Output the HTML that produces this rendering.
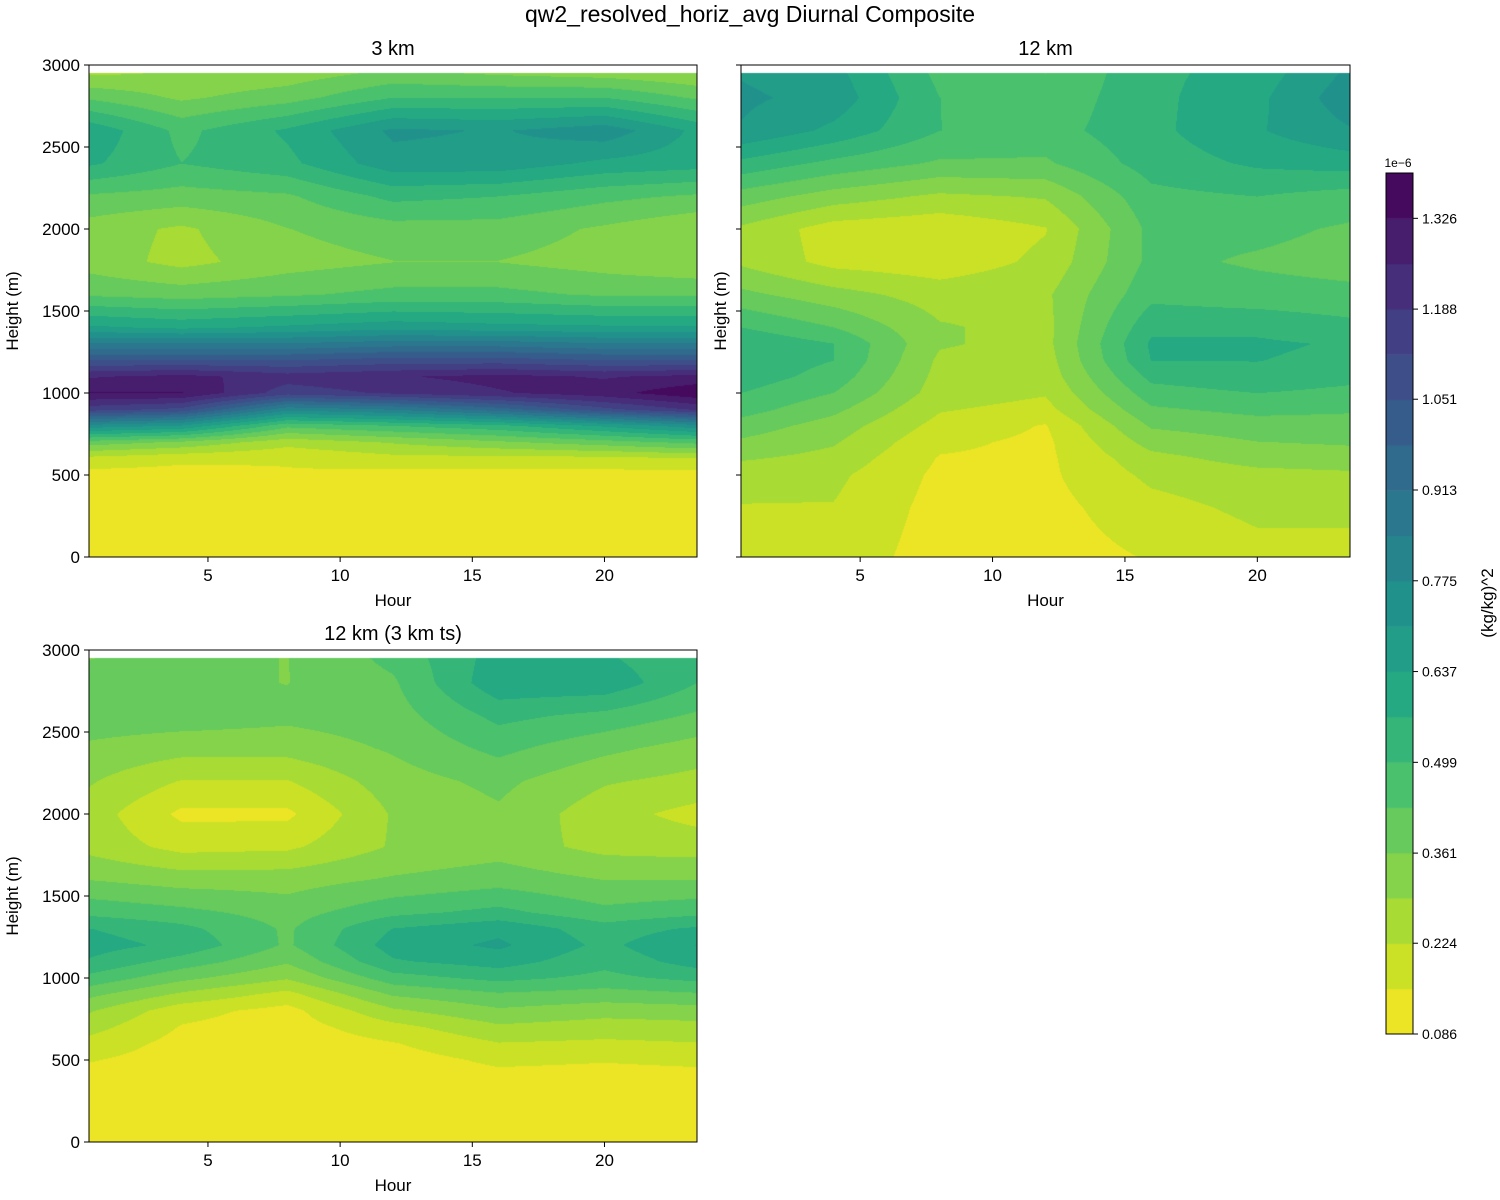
<!DOCTYPE html>
<html><head><meta charset="utf-8">
<style>
html,body{margin:0;padding:0;background:#fff;}
#root{position:relative;width:1500px;height:1200px;overflow:hidden;font-family:"Liberation Sans","DejaVu Sans",sans-serif;}
canvas{position:absolute;}
svg{position:absolute;left:0;top:0;}
</style></head>
<body>
<div id="root">
<canvas id="c1" width="608" height="492" style="left:89px;top:65px"></canvas>
<canvas id="c2" width="609" height="492" style="left:741px;top:65px"></canvas>
<canvas id="c3" width="608" height="492" style="left:89px;top:650px"></canvas>
<canvas id="cb" width="27" height="861" style="left:1386px;top:173px"></canvas>
<svg id="ov" width="1500" height="1200"></svg>
</div>
<script>
const hours=[0.5,4,8,12,16,20,23.5];
const heights=[0,300,500,600,700,800,900,1000,1100,1200,1300,1400,1600,1800,2000,2200,2400,2600,2800,2950];
const levelStart=0.086, levelStep=0.06889, nBands=19;
const cbTicks=["0.086","0.224","0.361","0.499","0.637","0.775","0.913","1.051","1.188","1.326"];
const xTicks=[5,10,15,20];
const yTicks=[0,500,1000,1500,2000,2500,3000];
const panel1=[
[0.1,0.1,0.1,0.1,0.1,0.1,0.1],
[0.1,0.1,0.1,0.1,0.1,0.1,0.1],
[0.13,0.13,0.15,0.13,0.13,0.13,0.13],
[0.2,0.17,0.16,0.2,0.2,0.2,0.22],
[0.4,0.35,0.25,0.3,0.35,0.4,0.45],
[0.75,0.7,0.45,0.5,0.55,0.65,0.75],
[1.15,1.1,0.8,0.85,0.95,1.1,1.2],
[1.33,1.33,1.15,1.2,1.25,1.3,1.38],
[1.25,1.28,1.22,1.25,1.28,1.25,1.28],
[1.05,1.05,1.05,1.08,1.08,1.05,1.05],
[0.85,0.85,0.85,0.88,0.88,0.85,0.85],
[0.65,0.62,0.65,0.68,0.66,0.65,0.65],
[0.42,0.4,0.42,0.45,0.45,0.42,0.42],
[0.33,0.27,0.33,0.36,0.36,0.33,0.3],
[0.33,0.28,0.36,0.4,0.4,0.35,0.3],
[0.42,0.4,0.42,0.52,0.5,0.45,0.42],
[0.58,0.5,0.55,0.68,0.68,0.62,0.6],
[0.62,0.48,0.58,0.72,0.7,0.75,0.62],
[0.42,0.35,0.4,0.5,0.5,0.5,0.42],
[0.28,0.3,0.32,0.38,0.35,0.33,0.3]];
const panel2=[
[0.2,0.2,0.12,0.12,0.16,0.2,0.2],
[0.22,0.22,0.13,0.13,0.2,0.24,0.24],
[0.25,0.24,0.14,0.14,0.24,0.27,0.28],
[0.3,0.27,0.15,0.14,0.27,0.32,0.33],
[0.35,0.3,0.17,0.14,0.32,0.36,0.37],
[0.4,0.33,0.2,0.15,0.37,0.4,0.4],
[0.46,0.38,0.23,0.2,0.42,0.45,0.44],
[0.5,0.43,0.26,0.23,0.47,0.5,0.48],
[0.54,0.47,0.27,0.25,0.52,0.55,0.52],
[0.55,0.5,0.28,0.26,0.57,0.57,0.55],
[0.56,0.5,0.3,0.27,0.58,0.58,0.56],
[0.5,0.43,0.3,0.27,0.55,0.55,0.52],
[0.38,0.32,0.26,0.28,0.48,0.46,0.45],
[0.28,0.2,0.18,0.24,0.45,0.42,0.4],
[0.28,0.19,0.17,0.22,0.45,0.45,0.42],
[0.4,0.33,0.28,0.3,0.48,0.5,0.47],
[0.55,0.48,0.42,0.42,0.53,0.58,0.6],
[0.7,0.62,0.5,0.47,0.55,0.63,0.7],
[0.72,0.68,0.5,0.45,0.55,0.62,0.75],
[0.7,0.66,0.48,0.43,0.55,0.6,0.72]];
const panel3=[
[0.1,0.1,0.1,0.1,0.1,0.1,0.1],
[0.1,0.1,0.1,0.1,0.1,0.1,0.1],
[0.16,0.12,0.1,0.12,0.17,0.16,0.17],
[0.2,0.13,0.11,0.15,0.22,0.21,0.22],
[0.25,0.15,0.12,0.2,0.28,0.26,0.27],
[0.3,0.18,0.13,0.28,0.35,0.32,0.33],
[0.38,0.28,0.2,0.37,0.42,0.4,0.42],
[0.48,0.38,0.3,0.47,0.52,0.48,0.52],
[0.56,0.47,0.37,0.56,0.6,0.52,0.6],
[0.6,0.55,0.42,0.6,0.65,0.55,0.64],
[0.57,0.52,0.42,0.57,0.62,0.53,0.58],
[0.48,0.45,0.4,0.48,0.52,0.45,0.48],
[0.36,0.33,0.33,0.37,0.4,0.36,0.36],
[0.27,0.2,0.21,0.3,0.33,0.27,0.26],
[0.26,0.14,0.14,0.3,0.35,0.25,0.2],
[0.3,0.22,0.22,0.33,0.38,0.3,0.27],
[0.35,0.32,0.32,0.37,0.45,0.38,0.33],
[0.4,0.4,0.38,0.4,0.52,0.48,0.42],
[0.38,0.38,0.36,0.42,0.62,0.62,0.5],
[0.36,0.38,0.36,0.45,0.6,0.58,0.5]];

const VIR=[[68,1,84],[72,36,117],[65,68,135],[53,95,141],[42,120,142],[33,145,140],[34,168,132],[68,191,112],[122,209,81],[189,223,38],[253,231,37]];
function viridis(t){t=Math.max(0,Math.min(1,t));const f=t*10,i=Math.min(9,Math.floor(f)),r=f-i;
 return VIR[i].map((v,k)=>Math.round(v+(VIR[i+1][k]-v)*r));}
function bandColor(b){return viridis(1-(b+0.5)/nBands);}
function bandOf(v){let b=Math.floor((v-levelStart)/levelStep);return Math.max(0,Math.min(nBands-1,b));}
function idx(arr,v){let i=0;while(i<arr.length-2&&v>arr[i+1])i++;const t=(v-arr[i])/(arr[i+1]-arr[i]);return [i,Math.max(0,Math.min(1,t))];}
function interp(grid,h,z){const [i,ti]=idx(hours,h),[j,tj]=idx(heights,z);
 const a=grid[j][i],b=grid[j][i+1],c=grid[j+1][i],d=grid[j+1][i+1];
 return (a*(1-ti)+b*ti)*(1-tj)+(c*(1-ti)+d*ti)*tj;}
const H0=0.5,H1=23.5,ZMAX=3000,ZTOP=2950;
function draw(id,grid){const cv=document.getElementById(id),ctx=cv.getContext('2d'),W=cv.width,Hh=cv.height;
 const img=ctx.createImageData(W,Hh);
 for(let py=0;py<Hh;py++){const z=ZMAX*(1-(py+0.5)/Hh);
  for(let px=0;px<W;px++){const o=(py*W+px)*4;
   if(z>ZTOP){img.data[o]=img.data[o+1]=img.data[o+2]=255;img.data[o+3]=255;continue;}
   const h=H0+(H1-H0)*(px+0.5)/W;const c=bandColor(bandOf(interp(grid,h,z)));
   img.data[o]=c[0];img.data[o+1]=c[1];img.data[o+2]=c[2];img.data[o+3]=255;}}
 ctx.putImageData(img,0,0);}
draw('c1',panel1);draw('c2',panel2);draw('c3',panel3);
(function(){const cv=document.getElementById('cb'),ctx=cv.getContext('2d'),bh=cv.height/nBands;
 for(let b=0;b<nBands;b++){const c=bandColor(b);ctx.fillStyle=`rgb(${c})`;ctx.fillRect(0,cv.height-(b+1)*bh,27,bh+0.5);}})();

const NS='http://www.w3.org/2000/svg',ov=document.getElementById('ov');
function el(tag,attrs,txt){const e=document.createElementNS(NS,tag);for(const k in attrs)e.setAttribute(k,attrs[k]);if(txt!==undefined)e.textContent=txt;ov.appendChild(e);return e;}
function txt(x,y,s,size,anchor,name,extra){const t=el('text',Object.assign({x:x,y:y,'font-size':size,'text-anchor':anchor||'middle',fill:'#000','font-family':'Liberation Sans, DejaVu Sans, sans-serif'},extra||{}),s);
 
 return t;}
txt(750,22,'qw2_resolved_horiz_avg Diurnal Composite',23,'middle','figure-title');
function axes(L,T,W,Hh,title,showY,key){
 const r=el('rect',{x:L,y:T,width:W,height:Hh,fill:'none',stroke:'#000','stroke-width':1});
 
 
 txt(L+W/2,T-10,title,20,'middle',key+'-title');
 const xs=h=>L+(h-H0)/(H1-H0)*W, ys=z=>T+Hh-z/ZMAX*Hh;
 xTicks.forEach(h=>{const x=xs(h);el('line',{x1:x,x2:x,y1:T+Hh,y2:T+Hh+5,stroke:'#000'});txt(x,T+Hh+24,String(h),17,'middle',key+'-x-tick-'+h);});
 yTicks.forEach(z=>{const y=ys(z);el('line',{x1:L-5,x2:L,y1:y,y2:y,stroke:'#000'});if(showY)txt(L-9,y+6,String(z),17,'end',key+'-y-tick-'+z);});
 txt(L+W/2,T+Hh+49,'Hour',17,'middle',key+'-x-axis-title');
 txt(0,0,'Height (m)',17,'middle',key+'-y-axis-title',{transform:`translate(${showY?18:726},${T+Hh/2}) rotate(-90)`});
}
axes(89,65,608,492,'3 km',true,'panel-3km');
axes(741,65,609,492,'12 km',false,'panel-12km');
axes(89,650,608,492,'12 km (3 km ts)',true,'panel-12km-3km-ts');
const cr=el('rect',{x:1386,y:173,width:27,height:861,fill:'none',stroke:'#000'});


cbTicks.forEach((s,i)=>{const y=1034-(parseFloat(s)-levelStart)/levelStep*(861/nBands);
 el('line',{x1:1413,x2:1418,y1:y,y2:y,stroke:'#000'});txt(1422,y+5,s,14,'start','colorbar-tick-'+s);});
txt(1398,167,'1e\u22126',12,'middle','colorbar-exponent');
txt(0,0,'(kg/kg)^2',17,'middle','colorbar-label',{transform:'translate(1493,603) rotate(-90)'});
</script>
</body></html>
